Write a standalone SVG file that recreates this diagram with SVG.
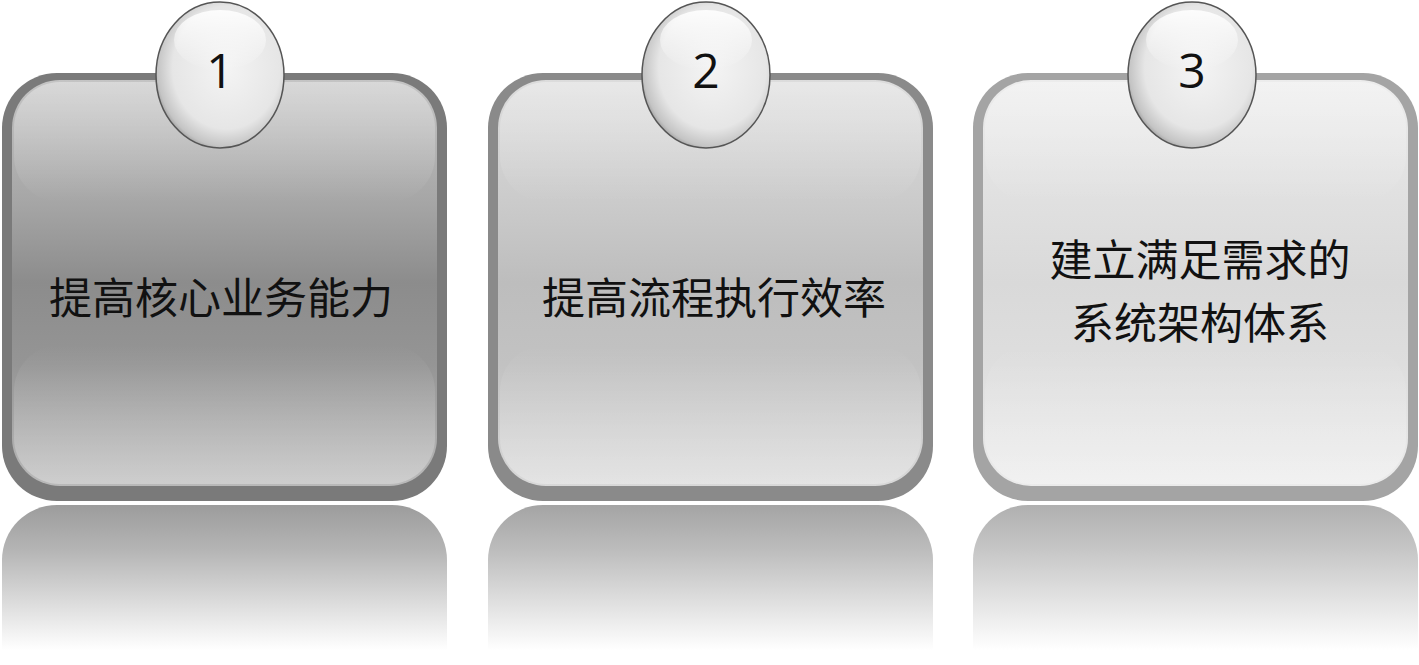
<svg xmlns="http://www.w3.org/2000/svg" width="1419" height="665" viewBox="0 0 1419 665">
<defs>
<linearGradient id="in1" x1="0" y1="0" x2="0" y2="1">
<stop offset="0" stop-color="#c4c4c4"/><stop offset="0.3" stop-color="#a6a6a6"/><stop offset="0.5" stop-color="#8c8c8c"/><stop offset="0.7" stop-color="#959595"/><stop offset="1" stop-color="#b9b9b9"/>
</linearGradient>
<linearGradient id="in2" x1="0" y1="0" x2="0" y2="1">
<stop offset="0" stop-color="#dcdcdc"/><stop offset="0.3" stop-color="#cbcbcb"/><stop offset="0.5" stop-color="#bdbdbd"/><stop offset="0.7" stop-color="#c2c2c2"/><stop offset="1" stop-color="#d8d8d8"/>
</linearGradient>
<linearGradient id="in3" x1="0" y1="0" x2="0" y2="1">
<stop offset="0" stop-color="#ececec"/><stop offset="0.3" stop-color="#e0e0e0"/><stop offset="0.5" stop-color="#d9d9d9"/><stop offset="0.7" stop-color="#dedede"/><stop offset="1" stop-color="#ebebeb"/>
</linearGradient>
<linearGradient id="gloss" x1="0" y1="0" x2="0" y2="1">
<stop offset="0" stop-color="#ffffff" stop-opacity="0.35"/><stop offset="1" stop-color="#ffffff" stop-opacity="0"/>
</linearGradient>
<linearGradient id="glossB" x1="0" y1="0" x2="0" y2="1">
<stop offset="0" stop-color="#ffffff" stop-opacity="0"/><stop offset="1" stop-color="#ffffff" stop-opacity="0.3"/>
</linearGradient>
<linearGradient id="ref1" x1="0" y1="0" x2="0" y2="1">
<stop offset="0" stop-color="#9c9c9c"/><stop offset="0.2" stop-color="#b4b4b4"/><stop offset="0.66" stop-color="#ffffff"/>
</linearGradient>
<linearGradient id="ref2" x1="0" y1="0" x2="0" y2="1">
<stop offset="0" stop-color="#a4a4a4"/><stop offset="0.2" stop-color="#bcbcbc"/><stop offset="0.66" stop-color="#ffffff"/>
</linearGradient>
<linearGradient id="ref3" x1="0" y1="0" x2="0" y2="1">
<stop offset="0" stop-color="#b0b0b0"/><stop offset="0.2" stop-color="#c6c6c6"/><stop offset="0.66" stop-color="#ffffff"/>
</linearGradient>
<radialGradient id="bub" cx="0.55" cy="0.45" r="0.6">
<stop offset="0" stop-color="#f4f4f4"/><stop offset="0.7" stop-color="#e6e6e6"/><stop offset="0.9" stop-color="#c4c4c4"/><stop offset="1" stop-color="#8a8a8a"/>
</radialGradient>
<linearGradient id="bubHi" x1="0" y1="0" x2="0" y2="1">
<stop offset="0" stop-color="#ffffff" stop-opacity="0.9"/><stop offset="1" stop-color="#ffffff" stop-opacity="0"/>
</linearGradient>
</defs>
<style>
.lbl{font-family:"Noto Sans CJK SC","Noto Sans",sans-serif;font-size:43px;fill:#111;text-anchor:middle}
.num{font-family:"Open Sans","Liberation Sans",sans-serif;font-size:48px;fill:#111;text-anchor:middle}
.bubble{fill:url(#bub);stroke:#555;stroke-width:1.5}
</style>
<rect width="1419" height="665" fill="#ffffff"/>
<g id="reflections">
<rect x="2" y="505" width="445" height="220" rx="55" fill="url(#ref1)"/>
<rect x="488" y="505" width="445" height="220" rx="55" fill="url(#ref2)"/>
<rect x="973" y="505" width="445" height="220" rx="55" fill="url(#ref3)"/>
</g>
<g id="node1">
<rect x="2" y="73" width="445" height="428" rx="55" fill="#7a7a7a"/>
<rect x="12" y="80" width="425" height="406" rx="48" fill="url(#in1)"/>
<rect x="14" y="82" width="421" height="120" rx="46" fill="url(#gloss)"/>
<rect x="14" y="345" width="421" height="139" rx="46" fill="url(#glossB)"/>
<ellipse class="bubble" cx="220" cy="75" rx="64" ry="73"/>
<ellipse cx="220" cy="40" rx="46" ry="30" fill="url(#bubHi)"/>
<text class="num" x="220" y="88">1</text>
<text class="lbl" x="221" y="314">提高核心业务能力</text>
</g>
<g id="node2">
<rect x="488" y="73" width="445" height="428" rx="55" fill="#8a8a8a"/>
<rect x="498" y="80" width="425" height="406" rx="48" fill="url(#in2)"/>
<rect x="500" y="82" width="421" height="120" rx="46" fill="url(#gloss)"/>
<rect x="500" y="345" width="421" height="139" rx="46" fill="url(#glossB)"/>
<ellipse class="bubble" cx="706" cy="75" rx="64" ry="73"/>
<ellipse cx="706" cy="40" rx="46" ry="30" fill="url(#bubHi)"/>
<text class="num" x="706" y="88">2</text>
<text class="lbl" x="714" y="314">提高流程执行效率</text>
</g>
<g id="node3">
<rect x="973" y="73" width="445" height="428" rx="55" fill="#a4a4a4"/>
<rect x="983" y="80" width="425" height="406" rx="48" fill="url(#in3)"/>
<rect x="985" y="82" width="421" height="120" rx="46" fill="url(#gloss)"/>
<rect x="985" y="345" width="421" height="139" rx="46" fill="url(#glossB)"/>
<ellipse class="bubble" cx="1192" cy="75" rx="64" ry="73"/>
<ellipse cx="1192" cy="40" rx="46" ry="30" fill="url(#bubHi)"/>
<text class="num" x="1192" y="88">3</text>
<text class="lbl" x="1200" y="276">建立满足需求的</text>
<text class="lbl" x="1200" y="339">系统架构体系</text>
</g>
<g id="connectors"/>
</svg>
